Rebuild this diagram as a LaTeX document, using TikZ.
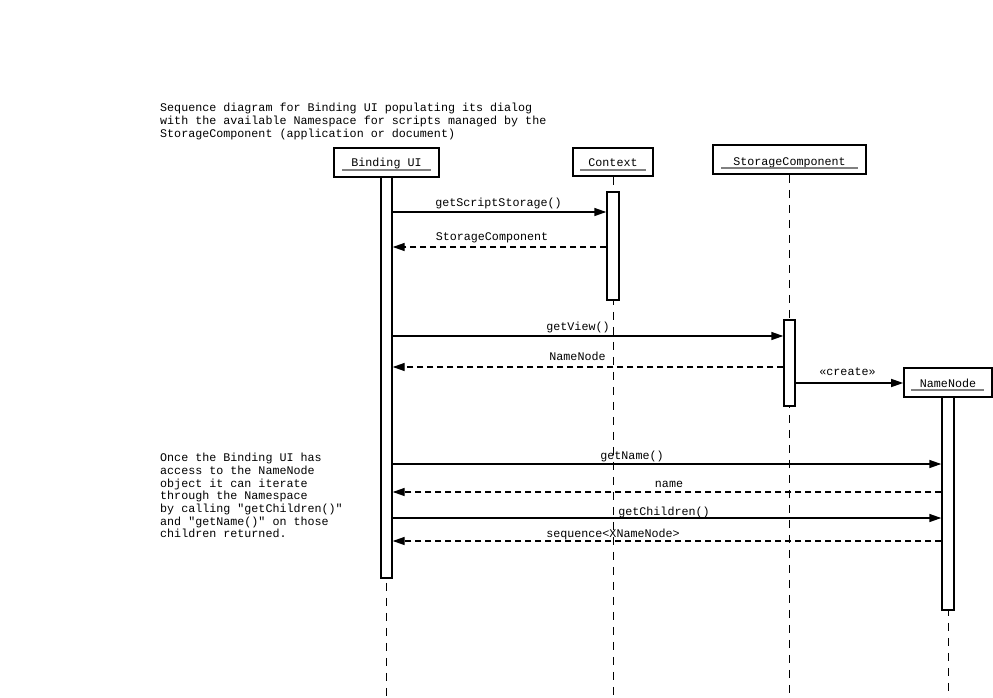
\documentclass[tikz,border=0pt]{standalone}
\usepackage{fontspec}
\setmonofont{Liberation Mono}
\usetikzlibrary{arrows.meta}
\begin{document}
\begin{tikzpicture}[x=1pt,y=-1pt,
  every node/.style={font=\ttfamily\fontsize{11.7}{12.7}\selectfont},
  head/.style={draw,line width=1.6pt,inner sep=0pt},
  act/.style={draw,fill=white,line width=1.4pt,inner sep=0pt},
  lifeline/.style={line width=0.9pt,dash pattern=on 8pt off 7pt},
  uline/.style={draw=gray,line width=1.3pt},
  msg/.style={line width=1.4pt,-{Triangle[length=12pt,width=8pt]}},
  ret/.style={line width=1.4pt,dash pattern=on 6pt off 4pt,-{Triangle[length=12pt,width=8pt]}},
  lbl/.style={anchor=base,inner sep=0pt},
  note/.style={anchor=north west,align=left,inner sep=0pt}]
\useasboundingbox (0,0) rectangle (993,698);
% header boxes
\node[head,minimum width=105pt,minimum height=29pt] (hb) at (386.5,162.5) {};
\node[lbl] (tb) at (386.5,167) {Binding UI};
\node[head,minimum width=80pt,minimum height=28pt] (hc) at (613,162) {};
\node[lbl] (tc) at (613,166) {Context};
\node[head,minimum width=153pt,minimum height=29pt] (hs) at (789.5,159.5) {};
\node[lbl] (ts) at (789.5,165) {StorageComponent};
\node[head,minimum width=88pt,minimum height=29pt] (hn) at (948,382.5) {};
\node[lbl] (tn) at (948,387) {NameNode};
% underlines
\draw[uline] (342,170) -- (431,170);
\draw[uline] (580,170) -- (646,170);
\draw[uline] (721,168) -- (858,168);
\draw[uline] (911,390) -- (984,390);
% lifelines
\coordinate (eb) at (386.5,698);
\coordinate (ec) at (613,698);
\coordinate (es) at (789.5,698);
\coordinate (en) at (948,698);
\draw[lifeline] (hb.south) -- (eb);
\draw[lifeline] (hc.south) -- (ec);
\draw[lifeline] (hs.south) -- (es);
\draw[lifeline] (hn.south) -- (en);
% activations
\node[act,minimum width=11pt,minimum height=401pt] (ab) at (386.5,377.5) {};
\node[act,minimum width=12pt,minimum height=108pt] (ac) at (613,246) {};
\node[act,minimum width=11pt,minimum height=86pt] (as) at (789.5,363) {};
\node[act,minimum width=12pt,minimum height=213pt] (an) at (948,503.5) {};
% messages
\draw[msg] (ab.east |- 0,212) -- (ac.west |- 0,212);
\node[lbl] (l1) at (498.5,206) {getScriptStorage()};
\draw[ret] (ac.west |- 0,247) -- (ab.east |- 0,247);
\node[lbl] (l2) at (492,240) {StorageComponent};
\draw[msg] (ab.east |- 0,336) -- (as.west |- 0,336);
\node[lbl] (l3) at (578,330) {getView()};
\draw[ret] (as.west |- 0,367) -- (ab.east |- 0,367);
\node[lbl] (l4) at (577.5,360) {NameNode};
\draw[msg] (as.east |- 0,383) -- (hn.west |- 0,383);
\node[lbl] (l5) at (847.5,375) {«create»};
\draw[msg] (ab.east |- 0,464) -- (an.west |- 0,464);
\node[lbl] (l6) at (632,459) {getName()};
\draw[ret] (an.west |- 0,492) -- (ab.east |- 0,492);
\node[lbl] (l7) at (669,487) {name};
\draw[msg] (ab.east |- 0,518) -- (an.west |- 0,518);
\node[lbl] (l8) at (664,515) {getChildren()};
\draw[ret] (an.west |- 0,541) -- (ab.east |- 0,541);
\node[lbl] (l9) at (613,537) {sequence<XNameNode>};
% notes
\node[note] (n1) at (160,103) {Sequence diagram for Binding UI populating its dialog\\with the available Namespace for scripts managed by the\\StorageComponent (application or document)};
\node[note] (n2) at (160,453) {Once the Binding UI has\\access to the NameNode\\object it can iterate\\through the Namespace\\by calling "getChildren()"\\and "getName()" on those\\children returned.};
\end{tikzpicture}
\end{document}
